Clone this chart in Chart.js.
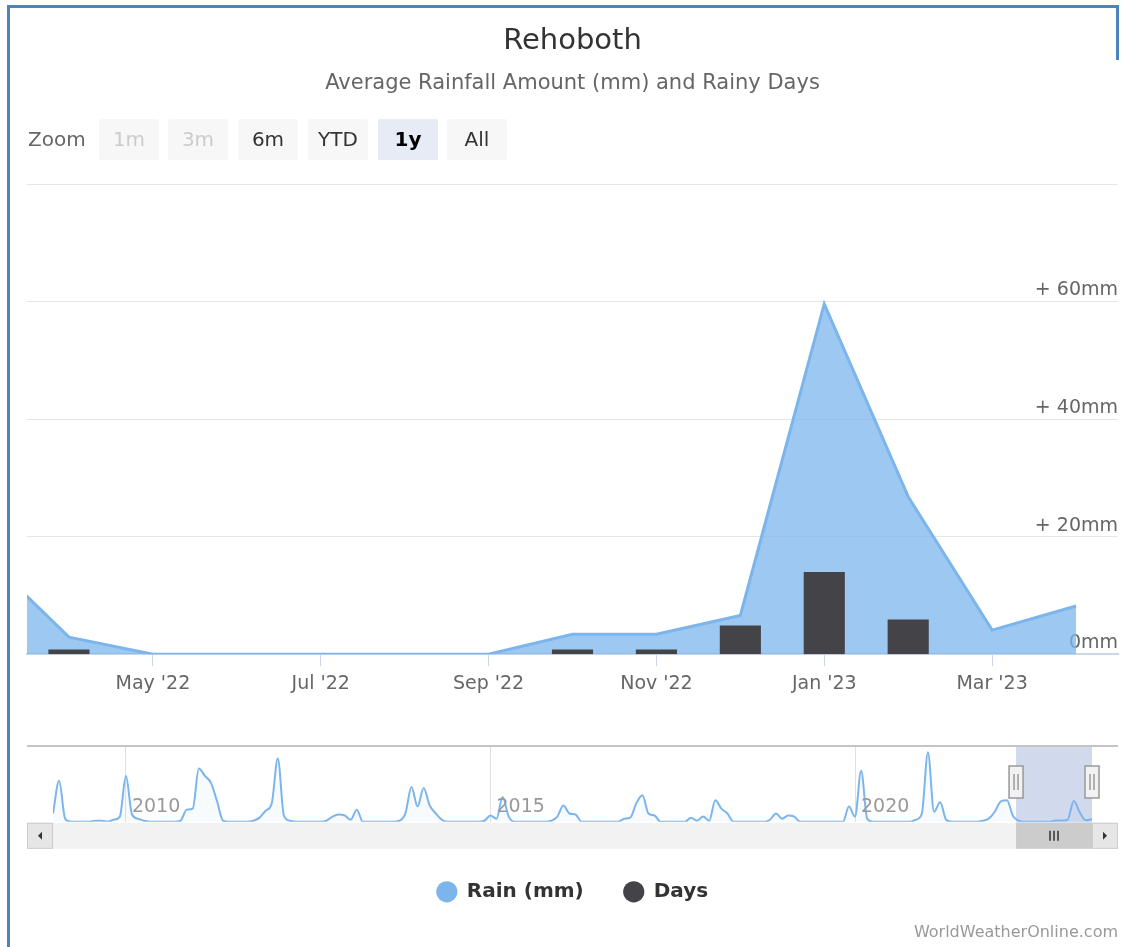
<!DOCTYPE html>
<html>
<head>
<meta charset="utf-8">
<script src="https://cdn.jsdelivr.net/npm/chart.js@4.4.1/dist/chart.umd.min.js"></script>
<style>
  html, body { margin: 0; padding: 0; background: #fff; }
  #wrap { position: relative; width: 1131px; height: 947px; overflow: hidden; font-family: 'DejaVu Sans', sans-serif; }
  canvas { position: absolute; left: 0; }
  #mainCanvas { top: 0; }
  #navCanvas { top: 700px; }
  .frame { position: absolute; background: #4f81bd; }
  .zoomLabel { position: absolute; left: 28px; top: 119px; height: 41px; line-height: 41px; font-size: 20px; color: #666; }
  .btn { position: absolute; top: 119px; width: 60px; height: 41px; line-height: 41px; text-align: center; font-size: 20px; background: #f7f7f7; color: #333; border-radius: 2px; }
  .btn.disabled { color: #cccccc; }
  .btn.selected { background: #e6ebf5; color: #000; font-weight: bold; }
</style>
</head>
<body>
<div id="wrap">
  <canvas id="mainCanvas" width="1131" height="701"></canvas>
  <canvas id="navCanvas" width="1131" height="247"></canvas>
  <div class="zoomLabel">Zoom</div>
  <div id="buttons"></div>
  <div class="frame" style="left:7px;top:5px;width:3px;height:942px;"></div>
  <div class="frame" style="left:7px;top:5px;width:1112px;height:3px;"></div>
  <div class="frame" style="left:1116px;top:5px;width:3px;height:55px;"></div>
</div>
<script>
// ---------- DATA ----------
const months = ["Mar '22", "Apr '22", "May '22", "Jun '22", "Jul '22", "Aug '22", "Sep '22",
                "Oct '22", "Nov '22", "Dec '22", "Jan '23", "Feb '23", "Mar '23", "Apr '23"];
const rain = [16.8, 2.9, 0, 0, 0, 0, 0, 3.4, 3.4, 6.6, 59.6, 26.8, 4.1, 8.2];
const days = [2, 0.8, 0, 0, 0, 0, 0, 0.8, 0.8, 4.9, 14, 5.9, 0, 0];
const xTickIndex = [2, 4, 6, 8, 10, 12];
const yTickValues = [0, 20, 40, 60, 80];
const yTickLabels = ['0mm', '+ 20mm', '+ 40mm', '+ 60mm', ''];

// Navigator history: monthly rain (mm), Jan 2009 .. Feb 2022
const navHistory = [
  24, 118, 9, 0, 0, 0, 0, 3, 3, 0, 6, 15,
  132, 21, 9, 3, 0, 0, 0, 0, 0, 3, 35, 38,
  153, 132, 112, 59, 3, 0, 0, 0, 0, 3, 12, 32,
  53, 182, 18, 3, 0, 0, 0, 0, 0, 3, 15, 21,
  18, 6, 35, 0, 0, 0, 0, 0, 0, 3, 24, 100,
  44, 97, 47, 24, 6, 0, 0, 0, 0, 0, 0, 3,
  18, 9, 71, 15, 0, 0, 0, 0, 0, 0, 3, 15,
  47, 24, 21, 0, 0, 0, 0, 0, 0, 0, 9, 12,
  53, 76, 24, 18, 0, 0, 0, 0, 0, 12, 3, 15,
  3, 62, 38, 24, 0, 0, 0, 0, 0, 0, 6, 24,
  9, 18, 15, 0, 0, 0, 0, 0, 0, 0, 0, 44,
  15, 147, 9, 0, 0, 0, 0, 0, 0, 0, 6, 24,
  200, 29, 56, 6, 0, 0, 0, 0, 0, 3, 9, 29,
  59, 62
];
const navStartYear = 2009;
const navYears = [2010, 2015, 2020];
const rangeButtons = ['1m', '3m', '6m', 'YTD', '1y', 'All'];

// ---------- SETTINGS ----------
const rainColor = '#7cb5ec';
const daysColor = '#434348';
const viewMin = 0.5, viewMax = 13.5;
Chart.defaults.font.family = "'DejaVu Sans', sans-serif";

// range selector buttons
const btnLefts = [99, 168, 238, 308, 378, 447];
const btnWrap = document.getElementById('buttons');
rangeButtons.forEach((t, i) => {
  const d = document.createElement('div');
  d.className = 'btn' + (i < 2 ? ' disabled' : '') + (t === '1y' ? ' selected' : '');
  d.style.left = btnLefts[i] + 'px';
  d.textContent = t;
  btnWrap.appendChild(d);
});

// ---------- MAIN CHART ----------
new Chart(document.getElementById('mainCanvas'), {
  type: 'bar',
  data: {
    datasets: [
      {
        type: 'bar', label: 'Days',
        data: days.map((v, i) => ({ x: i, y: v })),
        backgroundColor: daysColor, yAxisID: 'yDays', order: 0,
        barPercentage: 0.49, categoryPercentage: 1
      },
      {
        type: 'line', label: 'Rain (mm)',
        data: rain.map((v, i) => ({ x: i, y: v })),
        borderColor: rainColor, backgroundColor: 'rgba(124,181,236,0.75)',
        fill: 'origin', pointRadius: 0, borderWidth: 3, tension: 0,
        yAxisID: 'y', order: 1
      }
    ]
  },
  options: {
    responsive: false, animation: false,
    layout: { padding: { left: 27, right: 13, top: 0, bottom: 0 } },
    plugins: {
      legend: { display: false },
      tooltip: { enabled: false },
      title: {
        display: true, text: 'Rehoboth', color: '#333',
        font: { size: 29, weight: 'normal' }, padding: { top: 24, bottom: 0 }
      },
      subtitle: {
        display: true, text: 'Average Rainfall Amount (mm) and Rainy Days', color: '#666',
        font: { size: 21 }, padding: { top: 12, bottom: 88 }
      }
    },
    scales: {
      x: {
        type: 'linear', min: viewMin, max: viewMax, offset: false,
        afterBuildTicks: s => { s.ticks = xTickIndex.map(v => ({ value: v })); },
        ticks: { callback: v => months[v], font: { size: 19 }, color: '#666', padding: 6, maxRotation: 0, autoSkip: false },
        grid: { drawOnChartArea: false, drawTicks: true, tickLength: 12, color: '#ccd6eb', offset: false },
        border: { color: '#ccd6eb', width: 2 }
      },
      y: {
        position: 'right', min: 0, max: 80,
        afterBuildTicks: s => { s.ticks = yTickValues.map(v => ({ value: v })); },
        ticks: {
          mirror: true, padding: 0, labelOffset: -11, font: { size: 19 }, color: '#666',
          callback: v => yTickLabels[yTickValues.indexOf(v)]
        },
        grid: { color: '#e6e6e6', drawTicks: false },
        border: { display: false }
      },
      yDays: { display: false, min: 0, max: 80 }
    }
  }
});

// ---------- NAVIGATOR ----------
const navData = navHistory.concat(rain);
const navOffset = navHistory.length; // main index 0 == navigator index navHistory.length

const navDecor = {
  id: 'navDecor',
  beforeDatasetsDraw(chart) {
    const { ctx, chartArea: a, scales: { x } } = chart;
    const x0 = x.getPixelForValue(navOffset + viewMin);
    const x1 = Math.min(a.right, x.getPixelForValue(navOffset + viewMax));
    ctx.save();
    ctx.fillStyle = 'rgba(102,133,194,0.3)';
    ctx.fillRect(x0, a.top, x1 - x0, a.bottom - a.top + 1);
    ctx.restore();
  },
  afterDatasetsDraw(chart) {
    const { ctx, chartArea: a, scales: { x } } = chart;
    ctx.save();
    ctx.font = "19px 'DejaVu Sans', sans-serif";
    ctx.fillStyle = '#999';
    ctx.textAlign = 'left';
    ctx.textBaseline = 'middle';
    navYears.forEach(y => {
      ctx.fillText(String(y), x.getPixelForValue((y - navStartYear) * 12) + 6, a.bottom - 15);
    });
    ctx.restore();
  },
  afterDraw(chart) {
    const { ctx, chartArea: a, scales: { x } } = chart;
    const bw = 26;
    const left = a.left - bw, right = a.right + bw;
    const x0 = x.getPixelForValue(navOffset + viewMin);
    const x1 = Math.min(a.right, x.getPixelForValue(navOffset + viewMax));
    ctx.save();
    // top outline
    ctx.strokeStyle = '#c4c4c4';
    ctx.lineWidth = 2;
    ctx.beginPath(); ctx.moveTo(left, a.top); ctx.lineTo(right, a.top); ctx.stroke();
    // handles
    [x0, x1].forEach(hx => {
      const hw = 14, hh = 32, hy = a.top + 20;
      ctx.fillStyle = '#f2f2f2';
      ctx.strokeStyle = '#999';
      ctx.lineWidth = 1.5;
      ctx.fillRect(hx - hw / 2, hy, hw, hh);
      ctx.strokeRect(hx - hw / 2, hy, hw, hh);
      ctx.beginPath();
      ctx.moveTo(hx - 2, hy + 8); ctx.lineTo(hx - 2, hy + hh - 8);
      ctx.moveTo(hx + 2, hy + 8); ctx.lineTo(hx + 2, hy + hh - 8);
      ctx.stroke();
    });
    // scrollbar
    const sy = a.bottom + 1, sh = 26;
    ctx.fillStyle = '#f2f2f2';
    ctx.fillRect(left, sy, right - left, sh);
    // thumb
    ctx.fillStyle = '#cccccc';
    ctx.fillRect(x0, sy, x1 - x0, sh);
    ctx.strokeStyle = '#333';
    ctx.lineWidth = 1.5;
    const cx = (x0 + x1) / 2, cy = sy + sh / 2;
    ctx.beginPath();
    [-4, 0, 4].forEach(d => { ctx.moveTo(cx + d, cy - 5); ctx.lineTo(cx + d, cy + 5); });
    ctx.stroke();
    // buttons
    [[left, -1], [a.right, 1]].forEach(([bx, dir]) => {
      ctx.fillStyle = '#e6e6e6';
      ctx.fillRect(bx, sy, bw, sh);
      ctx.strokeStyle = '#cccccc';
      ctx.lineWidth = 1;
      ctx.strokeRect(bx + 0.5, sy + 0.5, bw - 1, sh - 1);
      const mx = bx + bw / 2, my = sy + sh / 2;
      ctx.fillStyle = '#333';
      ctx.beginPath();
      ctx.moveTo(mx - 2 * dir, my - 4);
      ctx.lineTo(mx + 2 * dir, my);
      ctx.lineTo(mx - 2 * dir, my + 4);
      ctx.closePath();
      ctx.fill();
    });
    ctx.restore();
  }
};

new Chart(document.getElementById('navCanvas'), {
  type: 'line',
  data: {
    datasets: [{
      label: 'Rain (mm) navigator',
      data: navData.map((v, i) => ({ x: i, y: v })),
      borderColor: rainColor, borderWidth: 2,
      backgroundColor: 'rgba(124,181,236,0.05)', fill: 'origin',
      pointRadius: 0, cubicInterpolationMode: 'monotone'
    }]
  },
  options: {
    responsive: false, animation: false,
    layout: { padding: { left: 27, right: 13, top: 46, bottom: 0 } },
    plugins: {
      tooltip: { enabled: false },
      legend: {
        position: 'bottom',
        labels: {
          usePointStyle: true, boxWidth: 20, boxHeight: 15, padding: 40,
          font: { size: 20, weight: 'bold' }, color: '#333',
          generateLabels: () => [
            { text: 'Rain (mm)', fillStyle: rainColor, strokeStyle: rainColor, lineWidth: 0, pointStyle: 'circle', hidden: false, datasetIndex: 0, fontColor: '#333' },
            { text: 'Days', fillStyle: daysColor, strokeStyle: daysColor, lineWidth: 0, pointStyle: 'circle', hidden: false, datasetIndex: 0, fontColor: '#333' }
          ]
        },
        onClick: () => {}
      },
      subtitle: {
        display: true, position: 'bottom', align: 'end', text: 'WorldWeatherOnline.com',
        color: '#999', font: { size: 16 }, padding: { top: 11, bottom: 5 }
      }
    },
    scales: {
      x: {
        type: 'linear', min: 0, max: navData.length - 1,
        afterBuildTicks: s => { s.ticks = navYears.map(y => ({ value: (y - navStartYear) * 12 })); },
        ticks: { display: false },
        grid: { color: '#e0e0e0', drawTicks: false },
        border: { display: false },
        afterFit: s => { s.height = 20; }
      },
      y: {
        min: 0, max: 218,
        ticks: { display: false }, grid: { display: false }, border: { display: false },
        afterFit: s => { s.width = 26; }
      },
      y2: {
        position: 'right', min: 0, max: 1,
        ticks: { display: false }, grid: { display: false }, border: { display: false },
        afterFit: s => { s.width = 26; }
      }
    }
  },
  plugins: [navDecor]
});
</script>
</body>
</html>
